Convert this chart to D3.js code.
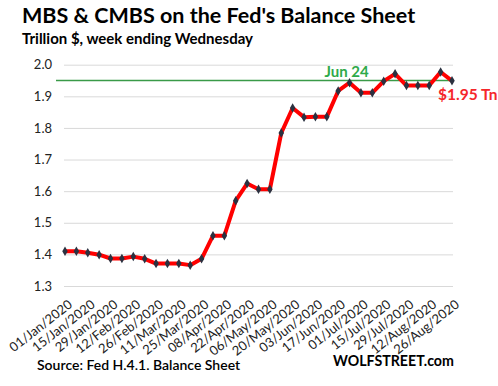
<!DOCTYPE html>
<html><head><meta charset="utf-8">
<script src="https://cdn.jsdelivr.net/npm/d3@7"></script>
<style>body{margin:0;background:#fff}svg{display:block}text{font-family:Lato,"Open Sans",sans-serif}</style>
</head><body><svg id="c" width="498" height="386"></svg>
<script>
const weeks = ["01/Jan/2020","08/Jan/2020","15/Jan/2020","22/Jan/2020","29/Jan/2020","05/Feb/2020","12/Feb/2020","19/Feb/2020","26/Feb/2020","04/Mar/2020","11/Mar/2020","18/Mar/2020","25/Mar/2020","01/Apr/2020","08/Apr/2020","15/Apr/2020","22/Apr/2020","29/Apr/2020","06/May/2020","13/May/2020","20/May/2020","27/May/2020","03/Jun/2020","10/Jun/2020","17/Jun/2020","24/Jun/2020","01/Jul/2020","08/Jul/2020","15/Jul/2020","22/Jul/2020","29/Jul/2020","05/Aug/2020","12/Aug/2020","19/Aug/2020","26/Aug/2020"];
const values = [1.410,1.410,1.405,1.399,1.387,1.387,1.393,1.386,1.371,1.371,1.371,1.366,1.386,1.459,1.459,1.570,1.624,1.606,1.606,1.784,1.863,1.834,1.835,1.835,1.917,1.943,1.911,1.911,1.948,1.971,1.934,1.934,1.934,1.977,1.949];
const yTicks = [1.3,1.4,1.5,1.6,1.7,1.8,1.9,2.0];
const refValue = 1.95;
const refLabel = "Jun 24";
const lastLabel = "$1.95 Tn";
const title = "MBS & CMBS on the Fed's Balance Sheet";
const subtitle = "Trillion $, week ending Wednesday";
const source = "Source: Fed H.4.1. Balance Sheet";
const brand = "WOLFSTREET.com";

const svg = d3.select("#c");
const x = d3.scalePoint().domain(weeks).range([65,452]);
const y = d3.scaleLinear().domain([1.3,2.0]).range([286,64.7]);

svg.append("text").attr("x",22).attr("y",23).attr("font-size",21.5).attr("font-weight","bold").attr("fill","#000").text(title);
svg.append("text").attr("x",22).attr("y",44).attr("font-size",15).attr("font-weight","bold").attr("fill","#000").text(subtitle);

// grid
const yAxis = d3.axisLeft(y).tickValues(yTicks).tickFormat(d3.format(".1f")).tickSize(-389).tickPadding(12);
const gy = svg.append("g").attr("transform","translate(64,0)").call(yAxis);
gy.select(".domain").remove();
gy.selectAll(".tick line").attr("stroke","#d9d9d9").attr("stroke-width",1);
gy.selectAll(".tick text").attr("font-size",13).attr("fill","#222").attr("font-family","Lato,sans-serif");

// x axis labels
const labelWeeks = weeks.filter((d,i)=>i%2===0);
const xAxis = d3.axisBottom(x).tickValues(labelWeeks).tickSize(0).tickPadding(0);
const gx = svg.append("g").attr("transform","translate(2,299)").call(xAxis);
gx.select(".domain").remove();
gx.selectAll(".tick text").attr("font-size",13).attr("fill","#222").attr("font-family","Lato,sans-serif")
  .attr("text-anchor","end").attr("dy","0.7em").attr("transform","rotate(-38)");

// reference line
svg.append("line").attr("x1",56).attr("x2",453).attr("y1",y(refValue)).attr("y2",y(refValue)).attr("stroke","#3a9a48").attr("stroke-width",1.3);

// series line
const line = d3.line().x((d,i)=>x(weeks[i])).y(d=>y(d));
svg.append("path").datum(values).attr("d",line).attr("fill","none").attr("stroke","#ff0000").attr("stroke-width",4).attr("stroke-linejoin","round");
svg.append("g").selectAll("path").data(values).join("path")
  .attr("d",d3.symbol(d3.symbolDiamond,26))
  .attr("transform",(d,i)=>`translate(${x(weeks[i])},${y(d)})`).attr("fill","#2b3140");

svg.append("text").attr("x",x("24/Jun/2020")-3).attr("y",77).attr("text-anchor","middle").attr("font-size",15).attr("font-weight","bold").attr("fill","#2eaa4a").text(refLabel);
svg.append("text").attr("x",438).attr("y",100).attr("font-size",15.5).attr("font-weight","bold").attr("fill","#f5262a").text(lastLabel);

svg.append("text").attr("x",37).attr("y",370).attr("font-size",14).attr("font-weight","600").attr("fill","#000").text(source);
svg.append("text").attr("x",333).attr("y",366).attr("font-size",14.2).attr("font-weight","bold").attr("fill","#000").text(brand);
</script></body></html>
